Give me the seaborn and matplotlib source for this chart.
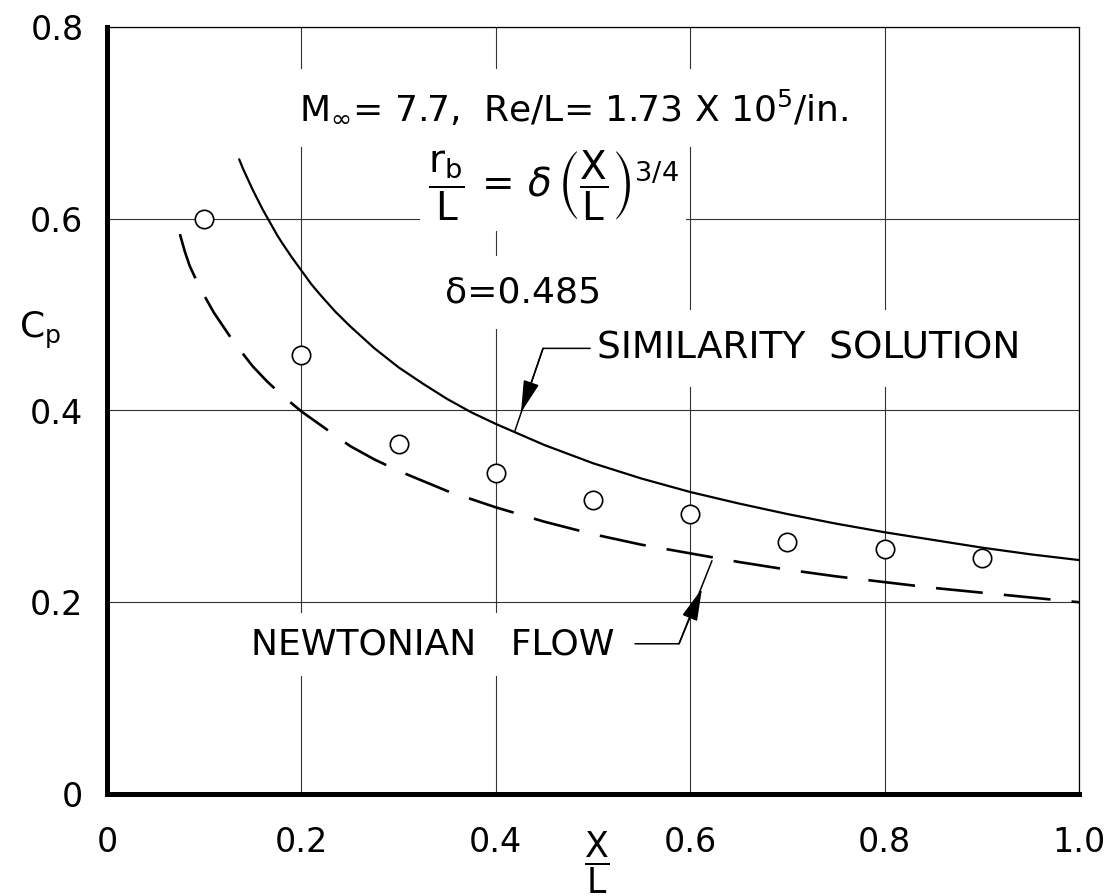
import matplotlib
matplotlib.use("Agg")
import matplotlib.pyplot as plt
import seaborn as sns

# Measured surface pressure coefficients (open circles)
x_meas = [0.1, 0.2, 0.3, 0.4, 0.5, 0.6, 0.7, 0.8, 0.9]
cp_meas = [0.600, 0.458, 0.365, 0.335, 0.307, 0.292, 0.263, 0.256, 0.246]

# Similarity solution (solid curve)
x_sim = [0.136, 0.14, 0.145, 0.15, 0.155, 0.16, 0.165, 0.17, 0.175, 0.18, 0.19,
         0.2, 0.21, 0.22, 0.235, 0.25, 0.275, 0.3, 0.325, 0.35, 0.375, 0.4, 0.45,
         0.5, 0.55, 0.6, 0.65, 0.7, 0.75, 0.8, 0.85, 0.9, 0.95, 1.0]
cp_sim = [0.662, 0.652, 0.641, 0.630, 0.620, 0.610, 0.601, 0.592, 0.583, 0.575, 0.560,
          0.546, 0.532, 0.520, 0.503, 0.488, 0.465, 0.445, 0.428, 0.412, 0.398, 0.386, 0.364,
          0.345, 0.329, 0.315, 0.303, 0.292, 0.282, 0.273, 0.265, 0.257, 0.250, 0.244]

# Newtonian flow (dashed curve)
x_newt = [0.075, 0.08, 0.085, 0.09, 0.1, 0.11, 0.12, 0.13, 0.14, 0.15, 0.165, 0.18,
          0.2, 0.225, 0.25, 0.275, 0.3, 0.35, 0.4, 0.45, 0.5, 0.55, 0.6, 0.65, 0.7,
          0.75, 0.8, 0.85, 0.9, 0.95, 1.0]
cp_newt = [0.584, 0.566, 0.551, 0.540, 0.520, 0.502, 0.487, 0.472, 0.459, 0.446, 0.430, 0.416,
           0.399, 0.381, 0.363, 0.349, 0.337, 0.316, 0.299, 0.284, 0.271, 0.260, 0.251, 0.242, 0.234,
           0.227, 0.221, 0.215, 0.210, 0.205, 0.200]

# Axis ticks and labels
x_ticks = [0.0, 0.2, 0.4, 0.6, 0.8, 1.0]
x_tick_labels = ["0", "0.2", "0.4", "0.6", "0.8", "1.0"]
y_ticks = [0.0, 0.2, 0.4, 0.6, 0.8]
y_tick_labels = ["0", "0.2", "0.4", "0.6", "0.8"]

sns.set_theme(style="white")
plt.rcParams["font.family"] = ["DejaVu Sans"]
plt.rcParams["mathtext.fontset"] = "dejavusans"
for key in ("text.color", "axes.labelcolor", "xtick.color", "ytick.color"):
    plt.rcParams[key] = "black"

W, H = 1105, 896
fig = plt.figure(figsize=(W / 100, H / 100), dpi=100)
fig.patch.set_facecolor("white")
ax = fig.add_axes([107 / W, 1 - 794 / H, 972 / W, 767 / H])
ax.set_facecolor("white")

ax.set_xlim(0, 1.0)
ax.set_ylim(0, 0.8)
ax.set_xticks(x_ticks)
ax.set_xticklabels(x_tick_labels)
ax.set_yticks(y_ticks)
ax.set_yticklabels(y_tick_labels)
ax.tick_params(axis="both", length=0, labelsize=24, colors="black")
ax.tick_params(axis="x", pad=23)
ax.tick_params(axis="y", pad=17)

ax.grid(True, color="#333333", linewidth=0.8)
ax.set_axisbelow(True)

for side in ("left", "bottom"):
    ax.spines[side].set_linewidth(3.6)
    ax.spines[side].set_color("black")
for side in ("top", "right"):
    ax.spines[side].set_linewidth(0.9)
    ax.spines[side].set_color("black")

# Curves
sns.lineplot(x=x_sim, y=cp_sim, ax=ax, color="black", linewidth=1.6,
             estimator=None, sort=False, zorder=3)
sns.lineplot(x=x_newt, y=cp_newt, ax=ax, color="black", linewidth=1.9,
             linestyle=(0, (17.8, 8)), estimator=None, sort=False, zorder=3)

# Data points
sns.scatterplot(x=x_meas, y=cp_meas, ax=ax, s=175, facecolor="white",
                edgecolor="black", linewidth=1.2, zorder=5)

# Axis labels
ax.set_xlabel(r"$\dfrac{\mathrm{X}}{\mathrm{L}}$", fontsize=25, color="black")
ax.xaxis.set_label_coords(0.504, -0.089)
ax.xaxis.label.set_verticalalignment("center")
ax.set_ylabel(r"$\mathrm{C_p}$", fontsize=26, rotation=0, color="black")
ax.yaxis.set_label_coords(-0.069, 0.605)
ax.yaxis.label.set_verticalalignment("center")
ax.yaxis.label.set_horizontalalignment("center")

white_box = dict(boxstyle="square,pad=0.55", facecolor="white", edgecolor="none")

ax.text(0.1975, 0.703, r"M$_{\infty}$= 7.7,  Re/L= 1.73 X 10$^{5}$/in.",
        fontsize=26, ha="left", va="baseline", bbox=white_box, zorder=2)
ax.text(0.330, 0.634,
        r"$\dfrac{\mathrm{r_b}}{\mathrm{L}}\,=\,\delta\,\left(\dfrac{\mathrm{X}}{\mathrm{L}}\right)^{3/4}$",
        fontsize=28, ha="left", va="center",
        bbox=dict(boxstyle="square,pad=0.2", facecolor="white", edgecolor="none"), zorder=2)
ax.text(0.348, 0.523, "δ=0.485", fontsize=26, ha="left", va="center",
        bbox=white_box, zorder=2)
ax.text(0.504, 0.465, "SIMILARITY  SOLUTION", fontsize=27, ha="left", va="center",
        bbox=white_box, zorder=2)
ax.text(0.148, 0.156, "NEWTONIAN   FLOW", fontsize=26, ha="left", va="center",
        bbox=dict(boxstyle="square,pad=0.4", facecolor="white", edgecolor="none"), zorder=2)

# Leader lines with arrowheads
lead = dict(color="black", linewidth=1.1, zorder=4)
ax.plot([0.497, 0.4486, 0.4198], [0.4648, 0.4648, 0.3791], **lead)
ax.annotate("", xy=(0.4259, 0.3979), xytext=(0.4486, 0.4648),
            arrowprops=dict(arrowstyle="-|>,head_length=1.0,head_width=0.25",
                            color="black", lw=1.1, shrinkA=0, shrinkB=0,
                            mutation_scale=20), zorder=4)
ax.plot([0.5432, 0.5885, 0.6224], [0.1567, 0.1567, 0.2433], **lead)
ax.annotate("", xy=(0.6121, 0.2141), xytext=(0.5885, 0.1567),
            arrowprops=dict(arrowstyle="-|>,head_length=1.0,head_width=0.25",
                            color="black", lw=1.1, shrinkA=0, shrinkB=0,
                            mutation_scale=20), zorder=4)

fig.savefig("out.png", dpi=100, facecolor="white")
